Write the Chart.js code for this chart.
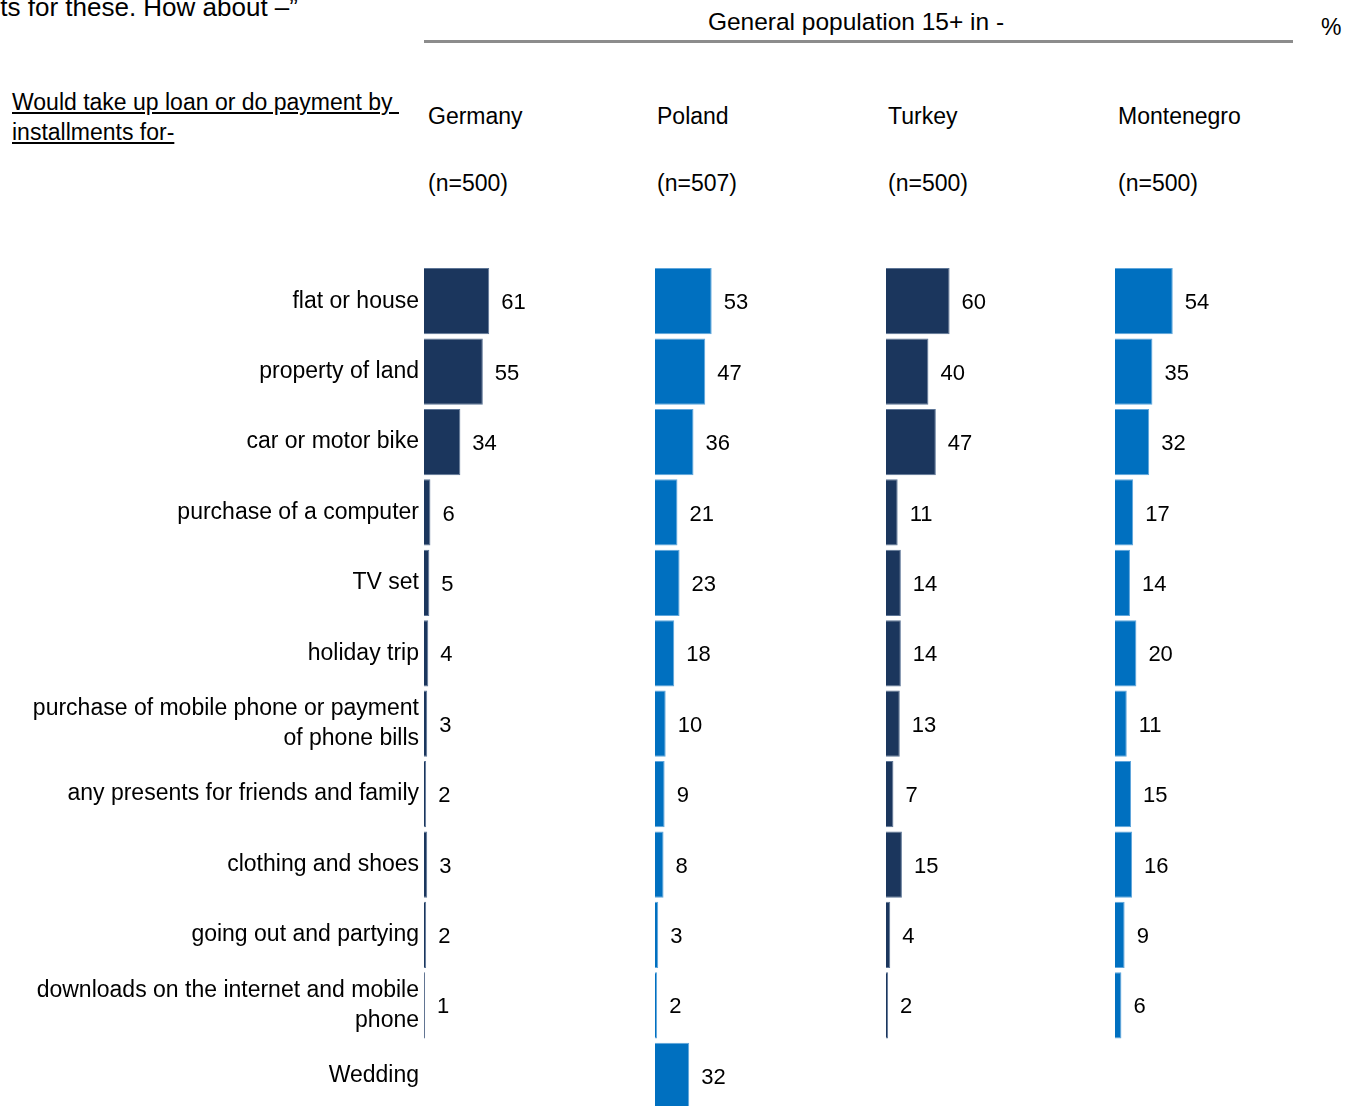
<!DOCTYPE html>
<html>
<head>
<meta charset="utf-8">
<script src="https://cdn.jsdelivr.net/npm/chart.js@4.4.0/dist/chart.umd.min.js"></script>
<style>
  html, body { margin: 0; padding: 0; background: #fff; }
  body { width: 1346px; height: 1106px; position: relative; overflow: hidden;
         font-family: "Liberation Sans", Arial, sans-serif; color: #000; }
  .t { position: absolute; white-space: pre; font-size: 23px; line-height: 30px; }
  .box { position: absolute; top: 266px; height: 845px; }
  .rule { position: absolute; left: 424px; top: 40px; width: 869px; height: 3px; background: #8c8c8c; }
</style>
</head>
<body>
<div class="t" style="right:1048px; top:-8px; font-size:26px;">ts for these. How about –”</div>
<div class="t" style="left:0; width:1712px; top:7px; text-align:center; font-size:24.5px;">General population 15+ in -</div>
<div class="rule"></div>
<div class="t" style="left:1321px; top:12px;">%</div>

<div class="t" style="left:12px; top:87px; text-decoration:underline;">Would take up loan or do payment by </div>
<div class="t" style="left:12px; top:117px; text-decoration:underline;">installments for-</div>

<div class="t" style="left:428px; top:101px;">Germany</div>
<div class="t" style="left:428px; top:168px;">(n=500)</div>
<div class="t" style="left:657px; top:101px;">Poland</div>
<div class="t" style="left:657px; top:168px;">(n=507)</div>
<div class="t" style="left:888px; top:101px;">Turkey</div>
<div class="t" style="left:888px; top:168px;">(n=500)</div>
<div class="t" style="left:1118px; top:101px;">Montenegro</div>
<div class="t" style="left:1118px; top:168px;">(n=500)</div>

<div class="box" style="left:0; width:655px;"><canvas id="cGermany"></canvas></div>
<div class="box" style="left:655px; width:231px;"><canvas id="cPoland"></canvas></div>
<div class="box" style="left:886px; width:229px;"><canvas id="cTurkey"></canvas></div>
<div class="box" style="left:1115px; width:231px;"><canvas id="cMontenegro"></canvas></div>

<script>
// categories (multi-line labels as arrays)
var categories = [
  'flat or house',
  'property of land',
  'car or motor bike',
  'purchase of a computer',
  'TV set',
  'holiday trip',
  ['purchase of mobile phone or payment', 'of phone bills'],
  'any presents for friends and family',
  'clothing and shoes',
  'going out and partying',
  ['downloads on the internet and mobile', 'phone'],
  'Wedding'
];

// % per country
var germany    = [61, 55, 34, 6, 5, 4, 3, 2, 3, 2, 1, null];
var poland     = [53, 47, 36, 21, 23, 18, 10, 9, 8, 3, 2, 32];
var turkey     = [60, 40, 47, 11, 14, 14, 13, 7, 15, 4, 2, null];
var montenegro = [54, 35, 32, 17, 14, 20, 11, 15, 16, 9, 6, null];

var NAVY = '#1b365d';
var BLUE = '#0070c0';
var FONT = '"Liberation Sans", Arial, sans-serif';

// value label to the right of each bar
var valueLabels = {
  id: 'valueLabels',
  afterDatasetsDraw: function(chart) {
    var ctx = chart.ctx;
    var ds = chart.data.datasets[0];
    var meta = chart.getDatasetMeta(0);
    ctx.save();
    ctx.font = '22px ' + FONT;
    ctx.fillStyle = '#000';
    ctx.textAlign = 'left';
    ctx.textBaseline = 'middle';
    meta.data.forEach(function(bar, i) {
      var v = ds.data[i];
      if (v === null || v === undefined) return;
      ctx.fillText(String(v), bar.x + 12, bar.y + 2);
    });
    ctx.restore();
  }
};

function renderPanel(canvasId, data, color, edge, withLabels) {
  var yScale = {
    display: withLabels,
    grid: { display: false, drawTicks: false },
    border: { display: false },
    ticks: {
      color: '#000',
      padding: 5,
      font: { family: FONT, size: 23, lineHeight: 1.3 }
    }
  };
  if (withLabels) {
    // fixed label column; no extra top/bottom padding so rows fill the box
    yScale.afterFit = function(scale) {
      scale.width = 424;
      scale.paddingTop = 0;
      scale.paddingBottom = 0;
    };
  }
  new Chart(document.getElementById(canvasId), {
    type: 'bar',
    data: {
      labels: categories,
      datasets: [{
        data: data,
        backgroundColor: color,
        borderColor: edge,
        borderWidth: 1,
        barPercentage: 0.94,
        categoryPercentage: 1.0
      }]
    },
    options: {
      indexAxis: 'y',
      responsive: true,
      maintainAspectRatio: false,
      animation: false,
      layout: { padding: 0 },
      plugins: { legend: { display: false }, tooltip: { enabled: false } },
      scales: {
        x: { display: false, min: 0, max: 216 },
        y: yScale
      }
    },
    plugins: [valueLabels]
  });
}

renderPanel('cGermany', germany, NAVY, '#5d7596', true);
renderPanel('cPoland', poland, BLUE, '#5fa6dc', false);
renderPanel('cTurkey', turkey, NAVY, '#5d7596', false);
renderPanel('cMontenegro', montenegro, BLUE, '#5fa6dc', false);
</script>
</body>
</html>
